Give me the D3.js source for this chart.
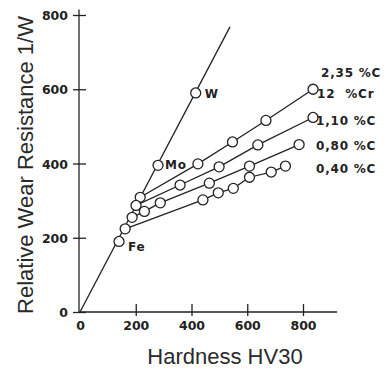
<!DOCTYPE html>
<html>
<head>
<meta charset="utf-8">
<script src="https://cdn.jsdelivr.net/npm/d3@7"></script>
<style>
  html, body { margin: 0; padding: 0; background: #fff; }
  svg { display: block; }
  .tick-label { font-family: "DejaVu Sans", sans-serif; font-weight: bold; font-size: 12.5px; fill: #222; }
  .note { font-family: "DejaVu Sans", sans-serif; font-weight: bold; font-size: 12px; letter-spacing: 0.8px; fill: #222; white-space: pre; }
  .title { font-family: "Liberation Sans", Arial, sans-serif; font-size: 22px; fill: #2a2a2a; }
</style>
</head>
<body>
<svg id="chart" width="387" height="369"></svg>
<script>
// Hardness HV30 vs relative wear resistance 1/W

// Pure metals (lie on a line through the origin)
const metalNames = ["Fe", "Mo", "W"];
const metalHardness = [140, 280, 415];
const metalWear = [190, 395, 590];

// Proportional line through the origin
const propHardness = [0, 538];
const propWear = [0, 768];

// Steels, by composition
const steelLabels = [["2,35 %C", "12  %Cr"], ["1,10 %C"], ["0,80 %C"], ["0,40 %C"]];
const steel235Hardness = [216, 423, 547, 667, 836];
const steel235Wear = [309, 399, 458, 516, 600];
const steel110Hardness = [201, 359, 499, 638, 836];
const steel110Wear = [287, 342, 391, 450, 524];
const steel080Hardness = [187, 231, 288, 464, 608, 786];
const steel080Wear = [255, 271, 294, 347, 393, 451];
const steel040Hardness = [162, 441, 496, 550, 608, 686, 737];
const steel040Wear = [224, 302, 321, 333, 363, 377, 393];

// Axis ticks
const xTicks = [0, 200, 400, 600, 800];
const yTicks = [0, 200, 400, 600, 800];

const steelSeries = [
  [steel235Hardness, steel235Wear],
  [steel110Hardness, steel110Wear],
  [steel080Hardness, steel080Wear],
  [steel040Hardness, steel040Wear]
].map(([h, w], i) => ({ label: steelLabels[i], pts: h.map((v, j) => [v, w[j]]) }));

const ink = "#222";
const svg = d3.select("#chart");

const x = d3.scaleLinear().domain([0, 800]).range([80, 303]);
const y = d3.scaleLinear().domain([0, 800]).range([312, 15]);

// Axes: ticks cross the axis line
const xAxis = d3.axisBottom(x).tickValues(xTicks).tickSize(4).tickFormat(d3.format("d"));
const gx = svg.append("g").attr("transform", `translate(0,${y(0)})`).call(xAxis);
gx.select(".domain").remove();
gx.selectAll(".tick line").attr("y1", -8).attr("y2", 4).attr("stroke", ink).attr("stroke-width", 1.3);
gx.selectAll(".tick").filter(d => d === 0).select("line").remove();
gx.selectAll(".tick text").attr("class", "tick-label").attr("y", 9).attr("dy", "0.71em");

const yAxis = d3.axisLeft(y).tickValues(yTicks).tickSize(6).tickFormat(d3.format("d"));
const gy = svg.append("g").attr("transform", `translate(${x(0) - 1},0)`).call(yAxis);
gy.select(".domain").remove();
gy.selectAll(".tick line").attr("x1", -6).attr("x2", 7).attr("stroke", ink).attr("stroke-width", 1.3);
gy.selectAll(".tick text").attr("class", "tick-label").attr("x", -11).attr("dy", "0.36em");

// Axis lines
svg.append("line")
  .attr("x1", x(0) - 1).attr("x2", x(0) - 1)
  .attr("y1", y(0)).attr("y2", y(815))
  .attr("stroke", ink).attr("stroke-width", 1.3);
svg.append("line")
  .attr("x1", x(0) - 1).attr("x2", x(922))
  .attr("y1", y(0)).attr("y2", y(0))
  .attr("stroke", ink).attr("stroke-width", 1.3);

const line = d3.line().x(d => x(d[0])).y(d => y(d[1]));

// Proportional line
svg.append("path")
  .datum(propHardness.map((h, i) => [h, propWear[i]]))
  .attr("d", line).attr("fill", "none").attr("stroke", ink).attr("stroke-width", 1.3);

// Steel lines
svg.selectAll(".steel").data(steelSeries).join("path")
  .attr("class", "steel")
  .attr("d", d => line(d.pts))
  .attr("fill", "none").attr("stroke", ink).attr("stroke-width", 1.3);

// Markers
const allPts = steelSeries.flatMap(s => s.pts)
  .concat(metalHardness.map((h, i) => [h, metalWear[i]]));
svg.selectAll(".pt").data(allPts).join("circle")
  .attr("class", "pt")
  .attr("cx", d => x(d[0])).attr("cy", d => y(d[1])).attr("r", 5)
  .attr("fill", "#fff").attr("stroke", ink).attr("stroke-width", 1.3);

// Metal labels
const metalOffsets = { Fe: [9, 10], Mo: [7, 4], W: [9, 5] };
svg.selectAll(".metal").data(metalNames).join("text")
  .attr("class", "note")
  .attr("x", (d, i) => x(metalHardness[i]) + metalOffsets[d][0])
  .attr("y", (d, i) => y(metalWear[i]) + metalOffsets[d][1])
  .text(d => d);

// Steel labels at the right of each line
steelSeries.forEach((s, i) => {
  const last = s.pts[s.pts.length - 1];
  const ly = y(last[1]);
  if (s.label.length === 2) {
    svg.append("text").attr("class", "note").attr("x", 321).attr("y", ly - 12).text(s.label[0]);
    svg.append("text").attr("class", "note").attr("x", 317).attr("y", ly + 9).text(s.label[1]);
  } else {
    svg.append("text").attr("class", "note").attr("x", 316).attr("y", ly + [0, 8, 5, 7][i]).text(s.label[0]);
  }
});

// Axis titles
svg.append("text").attr("class", "title")
  .attr("x", 225).attr("y", 364).attr("text-anchor", "middle")
  .text("Hardness HV30");
svg.append("text").attr("class", "title")
  .attr("transform", "translate(33,165) rotate(-90)")
  .attr("text-anchor", "middle")
  .text("Relative Wear Resistance 1/W");
</script>
</body>
</html>
